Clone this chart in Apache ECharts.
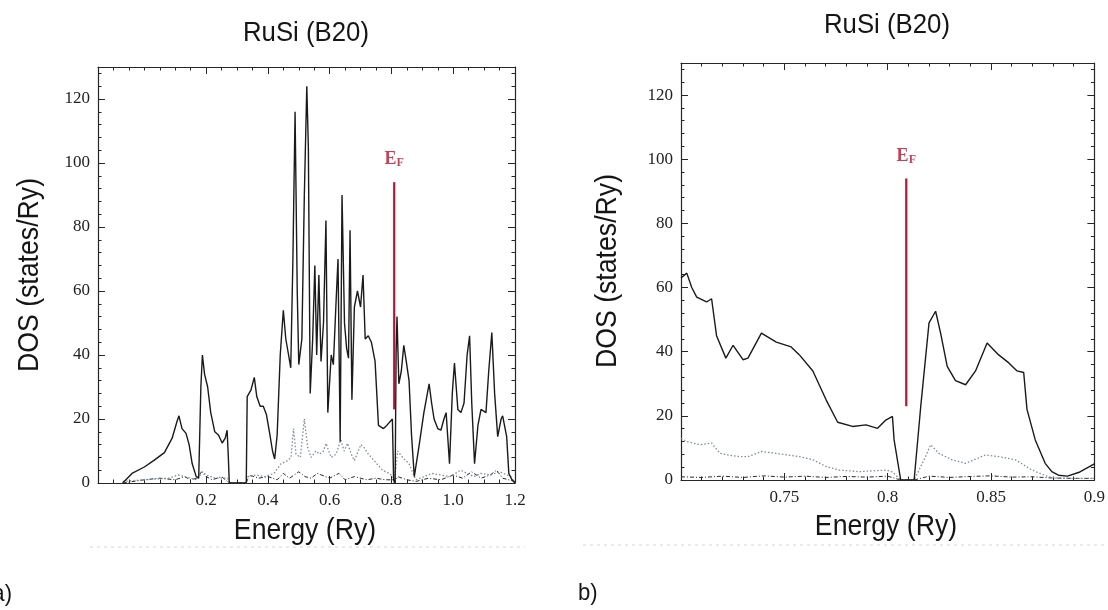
<!DOCTYPE html>
<html>
<head>
<meta charset="utf-8">
<script src="https://cdn.jsdelivr.net/npm/echarts@6/dist/echarts.min.js"></script>
<style>
html,body{margin:0;padding:0;background:#fff;}
#c{width:1108px;height:610px;}
</style>
</head>
<body>
<div id="c"></div>
<script>
// ---------- data ----------
const titleText = 'RuSi (B20)';
const xName = 'Energy (Ry)';
const yName = 'DOS (states/Ry)';
const fermiEnergy = 0.809;
const fermiLineRange = [23, 94];
const fermiLabelY = 101;

const leftXLabels = [0.2, 0.4, 0.6, 0.8, 1.0, 1.2];
const rightXLabels = [0.75, 0.8, 0.85, 0.9];
const yLabels = [0, 20, 40, 60, 80, 100, 120];

// panel a: total DOS (solid)
const leftTotal = [[-0.07,0],[-0.04,3],[0.0,5],[0.03,7],[0.065,9.5],[0.09,14],[0.105,19],[0.112,21],[0.122,17],[0.135,15.5],[0.145,12],[0.155,6],[0.168,2],[0.176,1.5],[0.183,30],[0.188,40],[0.195,34],[0.205,30],[0.215,22],[0.228,16],[0.24,15],[0.252,12.5],[0.262,14],[0.268,16.5],[0.272,8],[0.275,0],[0.33,0],[0.333,27],[0.345,29],[0.356,33],[0.364,27],[0.375,24],[0.385,24],[0.395,21.5],[0.405,16],[0.415,10],[0.422,7.5],[0.43,15],[0.44,40],[0.45,54],[0.458,45],[0.467,40],[0.474,36],[0.481,70],[0.488,116],[0.495,60],[0.5,37],[0.51,45],[0.518,90],[0.526,124],[0.531,105],[0.537,28],[0.545,45],[0.552,68],[0.558,40],[0.565,65],[0.572,38],[0.58,50],[0.588,82],[0.594,22],[0.605,40],[0.612,37],[0.62,55],[0.627,70],[0.634,13],[0.64,90],[0.648,50],[0.655,42],[0.661,39],[0.666,79],[0.672,26],[0.68,55],[0.69,60],[0.7,55],[0.708,65],[0.715,45],[0.725,46],[0.735,44],[0.747,38],[0.758,18],[0.774,17],[0.785,18],[0.803,20],[0.807,1],[0.812,0],[0.815,40],[0.818,52],[0.824,31],[0.832,35],[0.84,43],[0.848,38],[0.857,32],[0.865,15],[0.874,2],[0.89,12],[0.905,22],[0.922,31],[0.93,25],[0.938,20],[0.95,17],[0.96,16.5],[0.97,20],[0.977,22],[0.988,6],[0.997,28],[1.004,37.5],[1.015,23],[1.025,22],[1.035,25],[1.045,40],[1.053,46],[1.06,25],[1.069,6],[1.08,18],[1.09,23],[1.106,22],[1.115,35],[1.125,47],[1.134,28],[1.144,14.5],[1.155,20],[1.16,21],[1.168,17],[1.173,14.5],[1.18,3],[1.19,1],[1.2,0]];
// panel a: partial DOS (dotted)
const leftPartialA = [[-0.07,0.5],[0.0,1],[0.08,1.5],[0.11,2.5],[0.15,1.5],[0.17,1],[0.188,3.5],[0.2,2.5],[0.23,1.5],[0.27,1.5],[0.275,0],[0.33,0],[0.335,2],[0.36,2.5],[0.39,2],[0.42,3],[0.442,6],[0.464,7],[0.475,8],[0.483,17],[0.491,9],[0.505,8],[0.518,20],[0.529,11],[0.54,8],[0.555,10],[0.567,9],[0.58,10],[0.588,12.4],[0.605,8],[0.621,9],[0.636,13.5],[0.647,10],[0.658,12.4],[0.67,9],[0.68,7],[0.701,12],[0.712,11],[0.723,9.3],[0.744,7],[0.771,4],[0.793,3],[0.805,2],[0.809,0],[0.812,0],[0.82,10],[0.836,8],[0.857,6],[0.87,3],[0.879,1],[0.906,2],[0.93,3],[0.96,2.5],[0.99,2],[1.024,4],[1.045,3],[1.067,2],[1.09,3],[1.121,2.5],[1.15,3.5],[1.186,2],[1.2,0]];
// panel a: partial DOS (dash-dot)
const leftPartialB = [[-0.07,0],[0.0,1],[0.05,1.5],[0.1,1],[0.13,2],[0.15,1],[0.17,1.5],[0.185,3.5],[0.2,2],[0.22,1],[0.25,2],[0.275,0],[0.33,0],[0.34,2.5],[0.37,1.5],[0.4,2],[0.43,1],[0.45,3],[0.47,1.5],[0.5,3.5],[0.52,2],[0.54,1.5],[0.56,3],[0.6,1.5],[0.63,3],[0.65,1],[0.68,2],[0.72,1],[0.75,1.5],[0.78,1],[0.805,1],[0.809,0],[0.812,0],[0.82,2],[0.85,1],[0.88,0.5],[0.92,1.5],[0.96,1],[1.0,2.5],[1.03,1.5],[1.06,3.5],[1.09,1.5],[1.12,2.5],[1.14,4],[1.16,1.5],[1.2,0.5]];

// panel b: total DOS (solid)
const rightTotal = [[0.7,63],[0.7028,64.5],[0.7052,60],[0.7076,57],[0.7124,55.5],[0.7148,56.5],[0.7172,45],[0.7217,38],[0.7252,42],[0.73,37.5],[0.7324,38],[0.7389,45.8],[0.7461,43],[0.7533,41.5],[0.7573,39],[0.7638,34],[0.7702,25],[0.7758,18],[0.783,16.7],[0.7895,17.2],[0.7951,16.1],[0.7991,18.7],[0.8023,19.8],[0.8031,12.5],[0.8063,0],[0.8128,0],[0.816,23],[0.82,49],[0.8232,52.6],[0.8256,45.8],[0.8288,35.4],[0.8328,31],[0.8377,29.7],[0.8425,34],[0.8481,42.7],[0.8537,39],[0.8586,36.5],[0.8626,34],[0.8658,33.5],[0.8674,22],[0.8714,12.5],[0.8762,5.2],[0.8794,2.6],[0.8826,1.5],[0.887,1.2],[0.893,2.5],[0.9,5]];
// panel b: partial DOS (dotted)
const rightPartialA = [[0.7,13],[0.7027,12],[0.7092,11],[0.7148,11.5],[0.7188,8.3],[0.7228,7.8],[0.7284,7.3],[0.7324,7.3],[0.7389,8.9],[0.7461,8.3],[0.7573,7.3],[0.7638,6.3],[0.7702,4.2],[0.7766,3.1],[0.7863,2.6],[0.7991,3.1],[0.8023,2.5],[0.8063,0],[0.8128,0],[0.8176,6.3],[0.8208,11],[0.8248,8.3],[0.8312,6.3],[0.8377,5.2],[0.8473,7.8],[0.8537,7.3],[0.8618,6.3],[0.8698,3.1],[0.8778,1],[0.8826,0.6],[0.89,0.5],[0.9,0.5]];
// panel b: partial DOS (dash-dot)
const rightPartialB = [[0.7,1],[0.71,0.8],[0.72,1.2],[0.73,0.8],[0.74,1.3],[0.75,0.9],[0.76,1.2],[0.77,0.8],[0.78,1.1],[0.79,0.9],[0.8,1.2],[0.8063,0],[0.8128,0],[0.82,1.2],[0.83,0.8],[0.84,1.1],[0.85,1.3],[0.86,0.9],[0.87,1],[0.88,0.6],[0.89,0.5],[0.9,0.5]];

// ---------- chart ----------
const SANS = '"Liberation Sans",Arial,sans-serif';
const SERIF = '"Liberation Serif","Times New Roman",serif';
const AX = '#262626';
const RED = '#b5122f';
const TXT = '#151515';
const NARROW = 0.92;

function fmt(v){
  if (Math.abs(v - Math.round(v)) < 1e-9 && v !== 0 && v >= 1) return v.toFixed(1);
  return String(+v.toFixed(3));
}

function xMajor(grid, pos, min, max, labels, showLabels){
  return {type:'value', gridIndex:grid, position:pos, min:min, max:max,
    axisLine:{show:true, onZero:false, lineStyle:{color:AX, width:1.2}},
    axisTick:{show:true, inside:true, length:7, customValues:labels, lineStyle:{color:AX}},
    axisLabel:{show:showLabels, customValues:labels, margin:9, color:'#222', fontFamily:SERIF, fontSize:17, formatter:fmt},
    splitLine:{show:false}};
}
function xMinor(grid, pos, min, max, step){
  return {type:'value', gridIndex:grid, position:pos, min:min, max:max, interval:step,
    axisLine:{show:false, onZero:false},
    axisTick:{show:true, inside:true, length:3.5, lineStyle:{color:AX}},
    axisLabel:{show:false}, splitLine:{show:false}};
}
function yMajor(grid, pos, showLabels){
  return {type:'value', gridIndex:grid, position:pos, min:0, max:130,
    axisLine:{show:true, onZero:false, lineStyle:{color:AX, width:1.2}},
    axisTick:{show:true, inside:true, length:7, customValues:yLabels, lineStyle:{color:AX}},
    axisLabel:{show:showLabels, customValues:yLabels, margin:8, color:'#222', fontFamily:SERIF, fontSize:17},
    splitLine:{show:false}};
}
function yMinor(grid, pos){
  return {type:'value', gridIndex:grid, position:pos, min:0, max:130, interval:4,
    axisLine:{show:false, onZero:false},
    axisTick:{show:true, inside:true, length:3.5, lineStyle:{color:AX}},
    axisLabel:{show:false}, splitLine:{show:false}};
}

function line(data, xi, yi, style){
  return {type:'line', data:data, xAxisIndex:xi, yAxisIndex:yi, symbol:'none', silent:true,
    lineStyle:style, z:3, animation:false};
}
function fermi(xi, yi){
  return [
    {type:'line', xAxisIndex:xi, yAxisIndex:yi, symbol:'none', silent:true, animation:false, z:4,
     data:[[fermiEnergy, fermiLineRange[0]], [fermiEnergy, fermiLineRange[1]]],
     lineStyle:{color:RED, width:2.2}},
    {type:'scatter', xAxisIndex:xi, yAxisIndex:yi, symbolSize:0, silent:true, animation:false, z:4,
     data:[[fermiEnergy, fermiLabelY]],
     label:{show:true, position:'inside', formatter:'{e|E}{f|F}',
       rich:{e:{color:RED, fontFamily:SERIF, fontSize:18, fontWeight:'bold'},
             f:{color:RED, fontFamily:SERIF, fontSize:12, fontWeight:'bold', verticalAlign:'bottom', padding:[7,0,0,0]}}}}
  ];
}

const solid = {color:'#1a1a1a', width:1.4};
const dotted = {color:'#7f8a9c', width:1.3, type:[1.5,2]};
const dashdot = {color:'#2a2a2a', width:1, type:[4,2,1,2]};

function txt(x, y, s, size, rot, align){
  return {type:'text', x:x, y:y, rotation:rot || 0, scaleX:NARROW,
    style:{text:s, fontFamily:SANS, fontSize:size, fill:TXT, textAlign:align || 'center', textVerticalAlign:'middle'}};
}

const chart = echarts.init(document.getElementById('c'), null, {renderer:'canvas'});
chart.setOption({
  backgroundColor:'#ffffff',
  animation:false,
  grid:[
    {left:98, right:593, top:67, bottom:127},
    {left:681, right:13, top:63, bottom:130}
  ],
  xAxis:[
    xMajor(0,'bottom',-0.15,1.2,leftXLabels,true),
    xMinor(0,'bottom',-0.15,1.2,0.05),
    xMajor(0,'top',-0.15,1.2,leftXLabels,false),
    xMinor(0,'top',-0.15,1.2,0.05),
    xMajor(1,'bottom',0.7,0.9,rightXLabels,true),
    xMinor(1,'bottom',0.7,0.9,0.01),
    xMajor(1,'top',0.7,0.9,rightXLabels,false),
    xMinor(1,'top',0.7,0.9,0.01)
  ],
  yAxis:[
    yMajor(0,'left',true), yMinor(0,'left'), yMajor(0,'right',false), yMinor(0,'right'),
    yMajor(1,'left',true), yMinor(1,'left'), yMajor(1,'right',false), yMinor(1,'right')
  ],
  series:[
    line(leftPartialB,0,0,dashdot),
    line(leftPartialA,0,0,dotted),
    line(leftTotal,0,0,solid),
    ...fermi(0,0),
    line(rightPartialB,4,4,dashdot),
    line(rightPartialA,4,4,dotted),
    line(rightTotal,4,4,solid),
    ...fermi(4,4)
  ],
  graphic:[
    txt(306, 33, titleText, 28),
    txt(887, 25, titleText, 28),
    txt(305, 531, xName, 29),
    txt(886, 527, xName, 29),
    txt(30, 275, yName, 29, Math.PI/2),
    txt(608, 271, yName, 29, Math.PI/2),
    txt(12, 594, 'a)', 24, 0, 'right'),
    txt(578, 593, 'b)', 24, 0, 'left'),
    {type:'line', shape:{x1:90, y1:547, x2:525, y2:547}, style:{stroke:'#d6d6d6', lineWidth:1, lineDash:[3,4]}},
    {type:'line', shape:{x1:583, y1:545, x2:1104, y2:545}, style:{stroke:'#d6d6d6', lineWidth:1, lineDash:[3,4]}}
  ]
});
</script>
</body>
</html>
